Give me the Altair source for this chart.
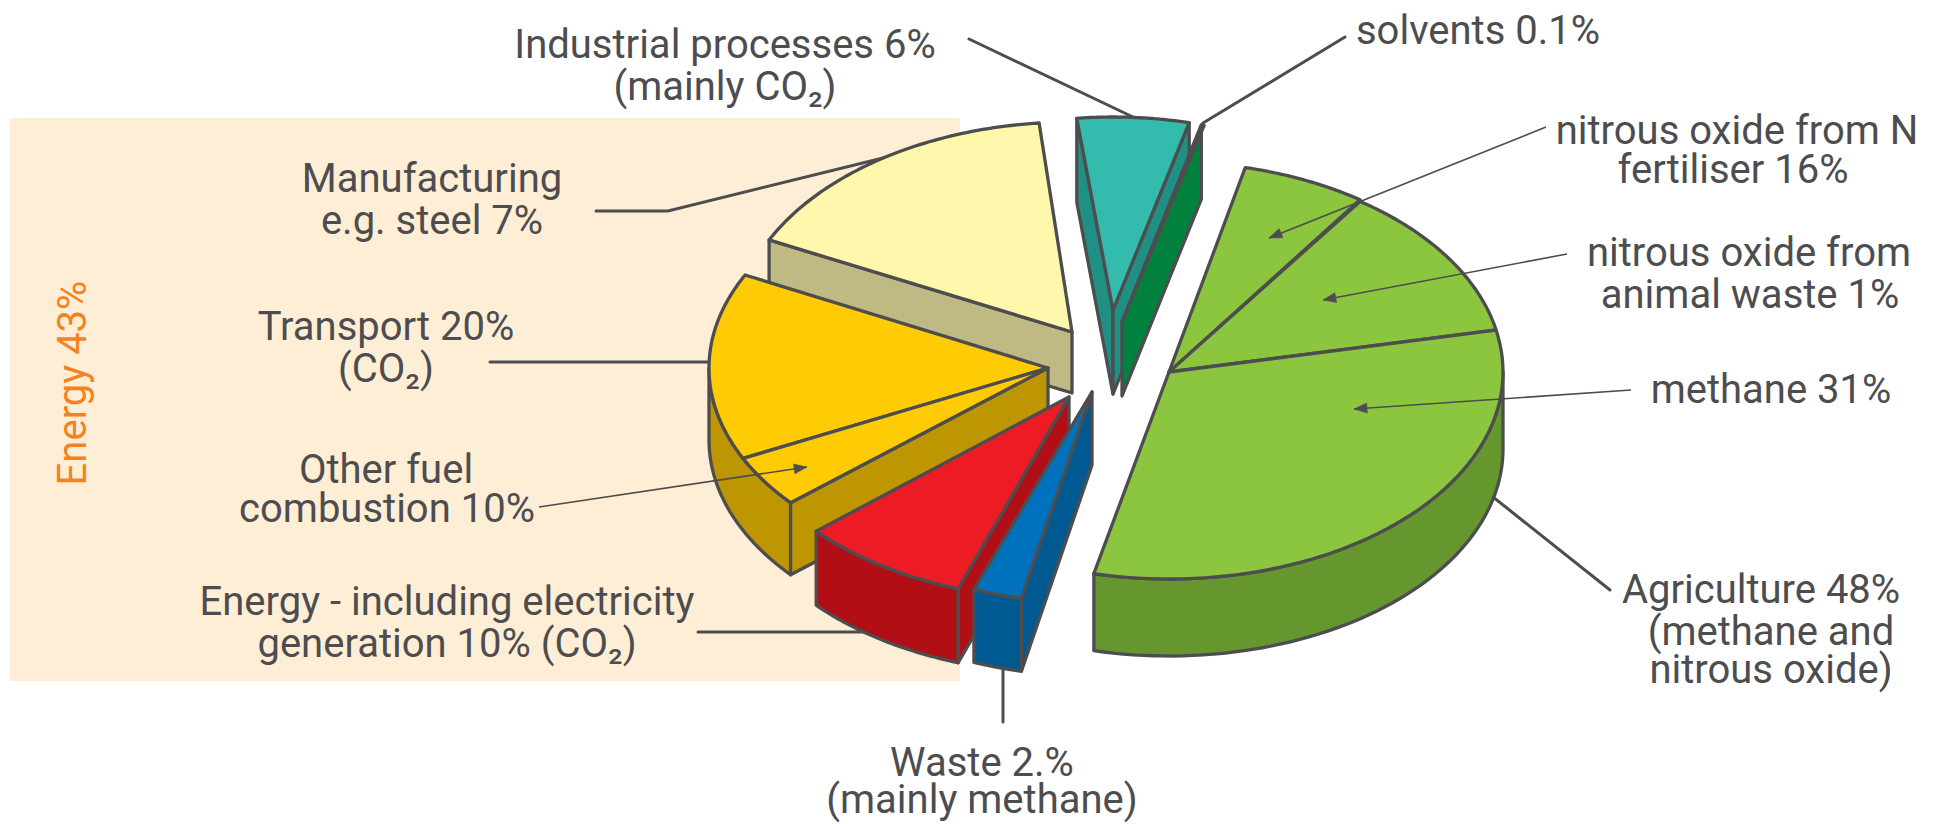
import math
import altair as alt

# ---- values as drawn: share of the ellipse, in degrees of sweep ----
slice_names = ["fertiliser N2O", "animal waste N2O", "methane", "waste", "energy",
               "other fuel", "transport", "manufacturing", "industrial", "solvents"]
slice_start = [-76.8, -55.1, -11.7, 102.2, 109.2, 139.4, 154.1, 206.0, 263.4, 284.0]
slice_sweep = [21.7, 43.4, 114.7, 8.5, 29.4, 14.7, 52.6, 58.4, 20.6, 0.5]

# ---- exploded group of each slice ----
apex_x = [1169, 1169, 1169, 1092, 1069, 1048, 1048, 1072, 1113, 1122]
apex_y = [372, 372, 372, 392, 397, 368, 368, 332, 310, 322]
radius_x = [334, 334, 334, 334, 337, 339, 339, 337, 315, 328]
radius_y = [210, 208, 207, 211, 203, 207, 207, 210, 193, 203]
depth = [77, 77, 77, 73, 74, 72, 72, 61, 84, 74]
top_colors = ["#8cc63f"] * 3 + ["#0071bc", "#ed1c24", "#ffcb05", "#ffcb05", "#fff7ac", "#33bcad", "#00813d"]
wall_colors = ["#66962e"] * 3 + ["#005a91", "#b10f15", "#bd9602", "#bd9602", "#bfb983", "#209085", "#00813d"]

INK = "#4d4d4f"
ORANGE = "#f58220"
PEACH = "#ffeed6"
FONT = "Roboto"
FONT_SIZE = 40

label_text = ["Industrial processes 6%", "(mainly CO₂)", "solvents 0.1%", "nitrous oxide from N", "fertiliser 16%",
              "nitrous oxide from", "animal waste 1%", "methane 31%", "Agriculture 48%", "(methane and",
              "nitrous oxide)", "Waste 2.%", "(mainly methane)", "Manufacturing", "e.g. steel 7%",
              "Transport 20%", "(CO₂)", "Other fuel", "combustion 10%", "Energy - including electricity",
              "generation 10% (CO₂)"]
label_x = [725, 725, 1478, 1737, 1733, 1749, 1750, 1771, 1761, 1771, 1771, 982, 982, 432, 432, 386, 386, 386, 387, 447, 447]
label_y = [46, 88, 32, 132, 171, 254, 296, 391, 591, 633, 671, 764, 801, 180, 222, 328, 370, 471, 510, 603, 645]

thick_leaders = [
    [(969, 39), (1133, 117)],
    [(1345, 37), (1203, 123)],
    [(596, 211), (668, 211), (887, 157)],
    [(490, 362), (710, 362)],
    [(698, 632), (870, 632)],
    [(1003, 670), (1003, 722)],
    [(1493, 497), (1610, 590)],
]
arrow_leaders = [
    [(539, 507), (807, 467)],
    [(1631, 390), (1354, 409)],
    [(1567, 254), (1323, 300)],
    [(1546, 127), (1269, 238)],
]
EDGE = 3.3


def feature(geom_type, coords, fill=None, sw=EDGE):
    return {"type": "Feature",
            "geometry": {"type": geom_type, "coordinates": coords},
            "properties": {"fill": fill or "none", "sw": sw}}


def poly(points, fill, sw=EDGE):
    pts = [list(p) for p in points]
    return feature("Polygon", [pts + [pts[0]]], fill, sw)


def arc_points(i, t0, t1, dy=0, n=60):
    out = []
    for k in range(n + 1):
        t = math.radians(t0 + (t1 - t0) * k / n)
        out.append((apex_x[i] + radius_x[i] * math.cos(t),
                    apex_y[i] + radius_y[i] * math.sin(t) + dy))
    return out


def outer_wall(i, t0=None, t1=None):
    t0 = slice_start[i] if t0 is None else t0
    t1 = slice_start[i] + slice_sweep[i] if t1 is None else t1
    lo, hi = max(t0, 0), min(t1, 180)
    if hi <= lo:
        return []
    return [poly(arc_points(i, lo, hi) + arc_points(i, hi, lo, depth[i]), wall_colors[i])]


def cut(i, t):
    d = depth[i]
    ax, ay = apex_x[i], apex_y[i]
    e = arc_points(i, t, t, n=1)[0]
    return [poly([(ax, ay), (ax, ay + d), (e[0], e[1] + d), e], wall_colors[i])]


def start_face(i):
    return cut(i, slice_start[i])


def end_face(i):
    return cut(i, slice_start[i] + slice_sweep[i])


def top_face(i):
    return [poly([(apex_x[i], apex_y[i])] + arc_points(i, slice_start[i], slice_start[i] + slice_sweep[i]),
                 top_colors[i])]


features = []
features += start_face(7) + top_face(7)                  # manufacturing
features += outer_wall(5, slice_start[5], 180) + top_face(6)  # transport and other fuel share one wall
features += start_face(5) + top_face(5)                  # other fuel
features += start_face(4) + outer_wall(4) + top_face(4)  # energy
features += start_face(3) + outer_wall(3) + top_face(3)  # waste
features += start_face(8) + end_face(8) + top_face(8)    # industrial
features += start_face(9) + top_face(9)                  # solvents
features += outer_wall(2) + top_face(0) + top_face(1) + top_face(2)  # agriculture

heads = []
for line in arrow_leaders:
    (x0, y0), (x1, y1) = line
    L = math.hypot(x1 - x0, y1 - y0)
    ux, uy = (x1 - x0) / L, (y1 - y0) / L
    bx, by = x1 - 13 * ux, y1 - 13 * uy
    heads.append(poly([(x1, y1), (bx - 5 * uy, by + 5 * ux), (bx + 5 * uy, by - 5 * ux)], INK, 0.5))

proj = dict(type="identity", scale=1, translate=[-8, -8])

backdrop = alt.Chart(alt.Data(values=[poly([(10, 118), (960, 118), (960, 681), (10, 681)], PEACH, 0)])).mark_geoshape(
    fill=PEACH, strokeWidth=0).project(**proj)

under = alt.Chart(alt.Data(values=[feature("LineString", [list(p) for p in l]) for l in thick_leaders])).mark_geoshape(
    filled=False, stroke=INK, strokeWidth=3, strokeCap="round").project(**proj)

pie = alt.Chart(alt.Data(values=features)).mark_geoshape(stroke=INK, strokeJoin="round").encode(
    fill=alt.Color("properties.fill:N", scale=None),
    strokeWidth=alt.StrokeWidth("properties.sw:Q", scale=None),
).project(**proj)

thin = alt.Chart(alt.Data(values=[feature("LineString", [list(p) for p in l]) for l in arrow_leaders])).mark_geoshape(
    filled=False, stroke=INK, strokeWidth=1.6).project(**proj)

arrows = alt.Chart(alt.Data(values=heads)).mark_geoshape(fill=INK, stroke=INK, strokeWidth=0.5).project(**proj)

labels = alt.Chart(alt.Data(values=[{"t": t, "x": x, "y": y} for t, x, y in zip(label_text, label_x, label_y)])).mark_text(
    font=FONT, fontSize=FONT_SIZE, color=INK, align="center", baseline="middle").encode(
    longitude="x:Q", latitude="y:Q", text="t:N").project(**proj)

energy = alt.Chart(alt.Data(values=[{"t": "Energy 43%", "x": 74, "y": 383}])).mark_text(
    font=FONT, fontSize=FONT_SIZE, color=ORANGE, align="center", baseline="middle", angle=270).encode(
    longitude="x:Q", latitude="y:Q", text="t:N").project(**proj)

chart = alt.layer(backdrop, under, pie, thin, arrows, labels, energy).properties(
    width=1919, height=816, padding=0, background="white"
).configure_view(stroke=None)

chart.save("out.html", embed_options={"renderer": "svg", "actions": False})
